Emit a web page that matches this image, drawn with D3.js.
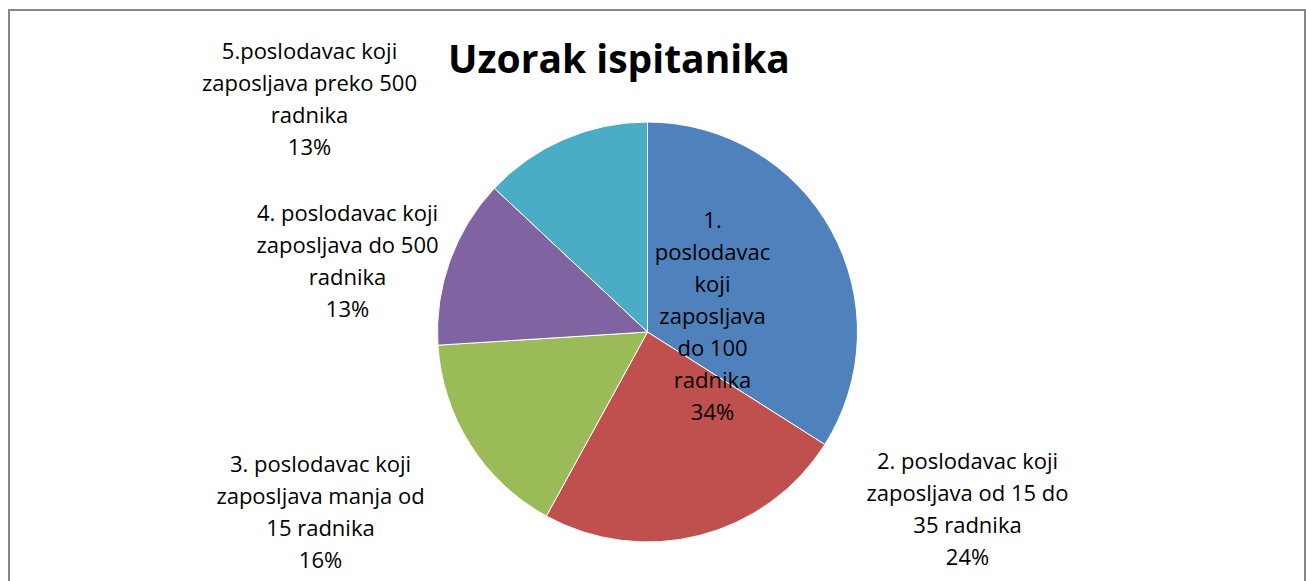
<!DOCTYPE html>
<html>
<head>
<meta charset="utf-8">
<script src="https://cdn.jsdelivr.net/npm/d3@7"></script>
<style>
  body { margin: 0; background: #fff; }
  text { font-family: "Open Sans", "Noto Sans", sans-serif; fill: #000; }
</style>
</head>
<body>
<div id="chart"></div>
<script>
// data
var categories = [
    "1. poslodavac koji zaposljava do 100 radnika",
    "2. poslodavac koji zaposljava od 15 do 35 radnika",
    "3. poslodavac koji zaposljava manja od 15 radnika",
    "4. poslodavac koji zaposljava do 500 radnika",
    "5.poslodavac koji zaposljava preko 500 radnika"
];
var values = [34, 24, 16, 13, 13];
var percentLabels = ["34%", "24%", "16%", "13%", "13%"];
var labelLines = [
    ["1.", "poslodavac", "koji", "zaposljava", "do 100", "radnika"],
    ["2. poslodavac koji", "zaposljava od 15 do", "35 radnika"],
    ["3. poslodavac koji", "zaposljava manja od", "15 radnika"],
    ["4. poslodavac koji", "zaposljava do 500", "radnika"],
    ["5.poslodavac koji", "zaposljava preko 500", "radnika"]
];
var colors = ["#4F81BD", "#C0504D", "#9BBB59", "#8064A2", "#4BACC6"];

// layout
var width = 1306, height = 581;
var cx = 647.5, cy = 332, radius = 210;
// label block centres relative to pie centre (first line)
var labelOffsets = [[65, -112], [320, 129], [-327, 132], [-300, -119], [-338, -281]];
var lineHeight = 32;

var svg = d3.select("#chart").append("svg")
    .attr("width", width)
    .attr("height", height);

// chart border
svg.append("rect")
    .attr("x", 9)
    .attr("y", 10)
    .attr("width", 1296)
    .attr("height", 600)
    .attr("fill", "#fff")
    .attr("stroke", "#868686")
    .attr("stroke-width", 2);

// title
svg.append("text")
    .attr("x", 619)
    .attr("y", 73)
    .attr("text-anchor", "middle")
    .style("font-size", "39px")
    .style("font-weight", "bold")
    .text("Uzorak ispitanika");

var pie = d3.pie().sort(null).value((d) => d);
var arc = d3.arc().innerRadius(0).outerRadius(radius);

var g = svg.append("g")
    .attr("transform", "translate(" + cx + "," + cy + ")");

g.selectAll("path")
    .data(pie(values))
    .enter().append("path")
    .attr("d", arc)
    .attr("fill", (d, i) => colors[i])
    .attr("stroke", "#fff")
    .attr("stroke-width", 1);

// labels
var labels = g.selectAll("text.lbl")
    .data(pie(values))
    .enter().append("text")
    .attr("class", "lbl")
    .attr("text-anchor", "middle")
    .style("font-size", "22px");

labels.each(function (d, i) {
    var t = d3.select(this);
    var lines = labelLines[i].concat([percentLabels[i]]);
    lines.forEach((line, j) => {
        t.append("tspan")
            .attr("x", labelOffsets[i][0])
            .attr("y", labelOffsets[i][1] + j * lineHeight + 8)
            .text(line);
    });
});
</script>
</body>
</html>
